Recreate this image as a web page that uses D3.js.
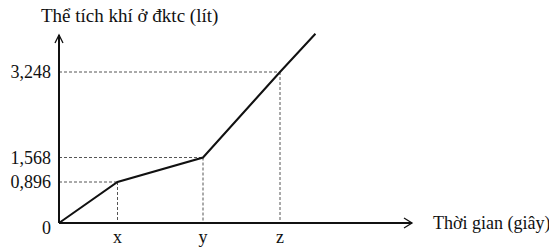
<!DOCTYPE html>
<html>
<head>
<meta charset="utf-8">
<script src="https://cdn.jsdelivr.net/npm/d3@7"></script>
<style>
  body { margin: 0; background: #fff; }
  svg text { font-family: "Liberation Serif", "DejaVu Serif", serif; fill: #111; }
</style>
</head>
<body>
<svg></svg>
<script>
// time steps (0 = origin, 1 = x, 2 = y, 3 = z, last = end of line)
var timeSteps = [0, 1, 2, 3, 3.46];
var volumes = [0, 0.896, 1.568, 3.248, 4.0];
var timeLabels = ["x", "y", "z"];
var volumeTicks = [0, 0.896, 1.568, 3.248];

var yTitle = "Thể tích khí ở đktc (lít)";
var xTitle = "Thời gian (giây)";

window.onload = function(){
    var svg = d3.select("svg")
        .attr("width", 549)
        .attr("height", 250);

    // drawing is not to scale, so the scales are piecewise
    var x = d3.scaleLinear()
        .domain([0, 1, 2, 3])
        .range([59, 117.5, 203, 280]);
    var y = d3.scaleLinear()
        .domain([0, 0.896, 1.568, 3.248])
        .range([223, 182, 157.5, 72]);

    var fmt = d3.formatLocale({decimal: ",", thousands: ".", grouping: [3], currency: ["", ""]}).format(".3f");

    var pts = timeSteps.map(function(t, i){ return {t: t, v: volumes[i]}; });

    // dashed guides
    var guides = pts.slice(1, 4);
    svg.append("g").selectAll("line.h")
        .data(guides).enter()
        .append("line")
        .attr("x1", x(0)).attr("x2", function(d){ return x(d.t); })
        .attr("y1", function(d){ return y(d.v); }).attr("y2", function(d){ return y(d.v); })
        .attr("stroke", "#555").attr("stroke-width", 1).attr("stroke-dasharray", "3,2");
    svg.append("g").selectAll("line.v")
        .data(guides).enter()
        .append("line")
        .attr("x1", function(d){ return x(d.t); }).attr("x2", function(d){ return x(d.t); })
        .attr("y1", function(d){ return y(d.v); }).attr("y2", y(0))
        .attr("stroke", "#555").attr("stroke-width", 1).attr("stroke-dasharray", "3,2");

    // axes with open arrows
    var ox = x(0), oy = y(0);
    svg.append("line").attr("x1", ox).attr("y1", oy).attr("x2", ox).attr("y2", 35)
        .attr("stroke", "#111").attr("stroke-width", 2);
    svg.append("path").attr("d", "M" + (ox - 4) + ",43 L" + ox + ",35 L" + (ox + 4) + ",43")
        .attr("fill", "none").attr("stroke", "#111").attr("stroke-width", 1.3);
    svg.append("line").attr("x1", ox).attr("y1", oy).attr("x2", 412).attr("y2", oy)
        .attr("stroke", "#111").attr("stroke-width", 2);
    svg.append("path").attr("d", "M404," + (oy - 5) + " L412," + oy + " L404," + (oy + 5))
        .attr("fill", "none").attr("stroke", "#111").attr("stroke-width", 1.3);

    // the graph line
    var line = d3.line()
        .x(function(d){ return x(d.t); })
        .y(function(d){ return y(d.v); });
    svg.append("path")
        .datum(pts)
        .attr("d", line)
        .attr("fill", "none")
        .attr("stroke", "#111")
        .attr("stroke-width", 2);

    // volume tick labels
    svg.append("g").selectAll("text")
        .data(volumeTicks).enter()
        .append("text")
        .attr("x", 51)
        .attr("y", function(d){ return y(d) + (d === 0 ? 11 : 6); })
        .attr("text-anchor", "end")
        .style("font-size", "18px")
        .text(function(d){ return d === 0 ? "0" : fmt(d); });

    // time labels
    svg.append("g").selectAll("text")
        .data(timeLabels).enter()
        .append("text")
        .attr("x", function(d, i){ return x(i + 1); })
        .attr("y", 243)
        .attr("text-anchor", "middle")
        .style("font-size", "18px")
        .text(function(d){ return d; });

    svg.append("text").attr("x", 41).attr("y", 22)
        .style("font-size", "19px").text(yTitle);
    svg.append("text").attr("x", 433).attr("y", 229)
        .style("font-size", "18px").text(xTitle);
};
</script>
</body>
</html>
